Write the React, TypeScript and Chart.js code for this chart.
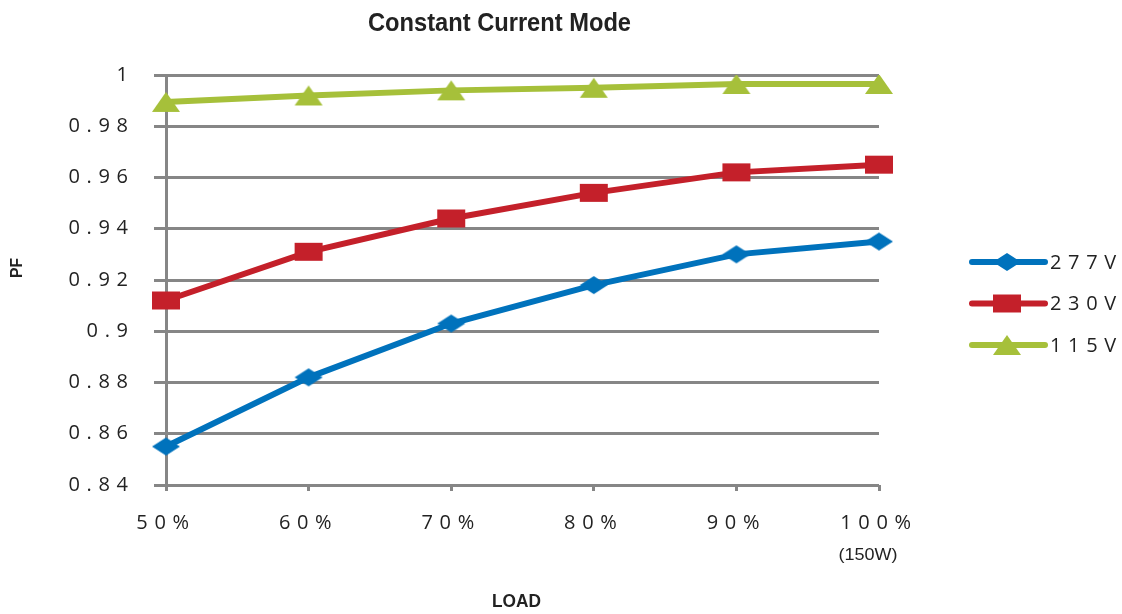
import React, { useEffect, useRef } from 'react';
import { Chart, registerables } from 'chart.js';

Chart.register(...registerables);

const categories = ['50%', '60%', '70%', '80%', '90%', '100%'];
const series277 = [0.855, 0.882, 0.903, 0.918, 0.93, 0.935];
const series230 = [0.912, 0.931, 0.944, 0.954, 0.962, 0.965];
const series115 = [0.9895, 0.992, 0.994, 0.995, 0.9965, 0.9965];
const seriesNames = ['277V', '230V', '115V'];
const seriesColors = ['#0072BC', '#C4202A', '#A6C03A'];
const markerKinds = ['diamond', 'square', 'triangle'];
const yMin = 0.84;
const yMax = 1;
const yStep = 0.02;

const SP = '\u2004';
const spaced = (s: string) => s.split('').join(SP);

function makeMarker(kind: string, color: string): HTMLCanvasElement {
  const c = document.createElement('canvas');
  c.width = 30;
  c.height = 22;
  const ctx = c.getContext('2d')!;
  ctx.fillStyle = color;
  ctx.beginPath();
  if (kind === 'diamond') {
    ctx.moveTo(1, 11);
    ctx.lineTo(15, 2);
    ctx.lineTo(29, 11);
    ctx.lineTo(15, 20);
  } else if (kind === 'square') {
    ctx.rect(1, 2, 28, 18);
  } else {
    ctx.moveTo(15, 1);
    ctx.lineTo(29, 21);
    ctx.lineTo(1, 21);
  }
  ctx.closePath();
  ctx.fill();
  return c;
}

function fitText(ctx: CanvasRenderingContext2D, text: string, cx: number, cy: number, width: number) {
  const w = ctx.measureText(text).width;
  ctx.save();
  ctx.translate(cx, cy);
  ctx.scale(width / w, 1);
  ctx.textAlign = 'center';
  ctx.fillText(text, 0, 0);
  ctx.restore();
}

export default function App() {
  const ref = useRef<HTMLCanvasElement | null>(null);

  useEffect(() => {
    if (!ref.current) return;
    const markers = markerKinds.map((k, i) => makeMarker(k, seriesColors[i]));
    const values = [series277, series230, series115];

    const textPlugin = {
      id: 'texts',
      afterDraw(chart: any) {
        const ctx = chart.ctx as CanvasRenderingContext2D;
        ctx.save();
        ctx.fillStyle = '#222';
        ctx.textBaseline = 'middle';
        ctx.font = 'bold 25px "Liberation Sans", Arial';
        fitText(ctx, 'Constant Current Mode', 499.5, 24, 263);
        ctx.font = 'bold 18px "Liberation Sans", Arial';
        fitText(ctx, 'LOAD', 516.5, 602, 49);
        ctx.textAlign = 'center';
        ctx.font = '16px "Liberation Sans", Arial';
        fitText(ctx, '(150W)', 868, 556, 59);
        ctx.save();
        ctx.translate(17, 268);
        ctx.rotate(-Math.PI / 2);
        ctx.font = 'bold 17px "Liberation Sans", Arial';
        fitText(ctx, 'PF', 0, 0, 20);
        ctx.restore();
        // legend
        for (let i = 0; i < seriesNames.length; i++) {
          const y = 262 + i * 41.5;
          ctx.strokeStyle = seriesColors[i];
          ctx.lineWidth = 6;
          ctx.lineCap = 'round';
          ctx.beginPath();
          ctx.moveTo(972, y);
          ctx.lineTo(1045, y);
          ctx.stroke();
          ctx.drawImage(markers[i], 1007 - 15, y - 11);
          ctx.fillStyle = '#222';
          ctx.textAlign = 'left';
          ctx.font = '20px "Open Sans", "DejaVu Sans"';
          ctx.fillText(spaced(seriesNames[i]), 1050, y + 1);
        }
        ctx.restore();
      },
    };

    const chart = new Chart(ref.current, {
      type: 'line',
      data: {
        labels: categories,
        datasets: values.map((v, i) => ({
          label: seriesNames[i],
          data: v,
          borderColor: seriesColors[i],
          backgroundColor: seriesColors[i],
          borderWidth: 6,
          pointStyle: markers[i] as any,
          pointRadius: 12,
          tension: 0,
        })),
      },
      options: {
        animation: false,
        responsive: false,
        devicePixelRatio: 1,
        layout: { padding: { left: 0, top: 75, right: 243, bottom: 0 } },
        plugins: {
          legend: { display: false },
          title: { display: false },
          tooltip: { enabled: false },
        },
        scales: {
          x: {
            offset: false,
            afterFit: (s: any) => {
              s.height = 129;
            },
            grid: {
              drawOnChartArea: false,
              drawTicks: true,
              tickLength: 6,
              color: '#868686',
              lineWidth: 3,
            },
            border: { display: false },
            ticks: {
              padding: 20,
              color: '#222',
              font: { family: '"Open Sans", "DejaVu Sans"', size: 20 },
              callback: (_v: any, i: number) => spaced(categories[i]) + SP,
              maxRotation: 0,
              autoSkip: false,
            },
          },
          y: {
            min: yMin,
            max: yMax,
            afterFit: (s: any) => {
              s.width = 166;
            },
            grid: {
              color: '#868686',
              lineWidth: 3,
              drawTicks: true,
              tickLength: 12,
            },
            border: { display: true, color: '#868686', width: 3 },
            ticks: {
              stepSize: yStep,
              padding: 26,
              color: '#222',
              font: { family: '"Open Sans", "DejaVu Sans"', size: 20 },
              callback: (v: any) => spaced(String(Number(Number(v).toFixed(2)))),
            },
          },
        },
      },
      plugins: [textPlugin],
    });
    return () => chart.destroy();
  }, []);

  return (
    <div style={{ position: 'fixed', left: 0, top: 0, width: 1122, height: 614, background: '#fff' }}>
      <canvas ref={ref} width={1122} height={614} style={{ width: 1122, height: 614 }} />
    </div>
  );
}
